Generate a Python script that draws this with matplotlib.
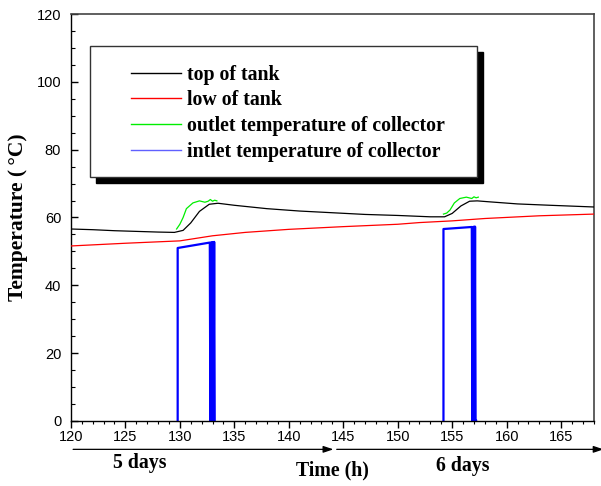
import matplotlib
matplotlib.use("Agg")
import matplotlib.pyplot as plt
from matplotlib.patches import Rectangle
from matplotlib.ticker import MultipleLocator

# ── Data ──────────────────────────────────────────────────────────────────
top_time = [120, 122, 124, 126, 128, 129.5, 130.3, 131.0, 131.8, 132.7, 133.5,
            135, 138, 141, 144, 147, 150, 153, 154.3, 155.0, 155.8, 156.6,
            157.3, 158.5, 161, 164, 168]
top_temp = [56.6, 56.4, 56.1, 55.9, 55.7, 55.6, 56.2, 58.4, 61.8, 63.9, 64.2,
            63.6, 62.6, 61.9, 61.4, 60.9, 60.6, 60.2, 60.2, 61.2, 63.4, 64.8,
            64.9, 64.6, 64.0, 63.6, 63.1]

low_time = [120, 125, 130, 133, 136, 140, 145, 150, 152, 155, 158, 163, 168]
low_temp = [51.6, 52.4, 53.1, 54.6, 55.6, 56.5, 57.3, 58.0, 58.5, 59.0, 59.7, 60.5, 61.0]

out1_time = [129.7, 130.0, 130.3, 130.6, 131.2, 131.8, 132.3, 132.6, 132.8, 133.0, 133.2, 133.4]
out1_temp = [56.6, 58.0, 60.0, 62.6, 64.3, 64.9, 64.5, 64.8, 65.3, 64.8, 65.1, 64.9]
out2_time = [154.2, 154.5, 154.8, 155.2, 155.7, 156.3, 156.8, 157.0, 157.2, 157.4]
out2_temp = [61.0, 61.3, 62.2, 64.3, 65.6, 66.0, 65.6, 66.1, 65.8, 66.0]

# collector inlet only reported while the pump runs (NaN = pump off)
in_time = [129.8, 129.8, 132.75, 132.8, 132.85, 132.9, 132.95, 133.0,
           133.05, 133.1, 133.15, 133.2, float("nan"),
           154.2, 154.2, 156.8, 156.85, 156.9, 156.95, 157.0, 157.05,
           157.1, 157.15, 157.2]
in_temp = [0, 51.0, 52.6, 0, 52.6, 0, 52.7, 0,
           52.7, 0, 52.8, 0, float("nan"),
           0, 56.6, 57.2, 0, 57.2, 0, 57.3, 0, 57.3, 0, 0]

series_labels = ["top of tank", "low of tank",
                 "outlet temperature of collector", "intlet temperature of collector"]

SERIF = ["Liberation Serif", "DejaVu Serif"]
SANS = ["Liberation Sans", "DejaVu Sans"]
BIG = 14.3

fig = plt.figure(figsize=(6.01, 4.86), dpi=100)
ax = fig.add_axes([0.118, 0.134, 0.870, 0.837])

ax.plot(in_time, in_temp, color="#0000ff", linewidth=1.6, zorder=2)
ax.plot(low_time, low_temp, color="#ff0000", linewidth=0.9, zorder=3)
ax.plot(top_time, top_temp, color="black", linewidth=0.9, zorder=4)
ax.plot(out1_time, out1_temp, color="#00ee00", linewidth=0.9, zorder=5)
ax.plot(out2_time, out2_temp, color="#00ee00", linewidth=0.9, zorder=5)

ax.set_xlim(120, 168)
ax.set_ylim(0, 120)
ax.xaxis.set_major_locator(MultipleLocator(5))
ax.xaxis.set_minor_locator(MultipleLocator(1))
ax.yaxis.set_major_locator(MultipleLocator(20))
ax.yaxis.set_minor_locator(MultipleLocator(5))
ax.tick_params(axis="x", which="major", direction="out", length=5, width=1, pad=1.5)
ax.tick_params(axis="x", which="minor", direction="out", length=2.5, width=0.8)
ax.tick_params(axis="y", which="major", direction="in", length=5, width=1, pad=7)
ax.tick_params(axis="y", which="minor", direction="in", length=3, width=0.8)
for lab in ax.get_xticklabels() + ax.get_yticklabels():
    lab.set_family(SANS)
    lab.set_fontsize(10.5)
for side in ("top", "right"):
    ax.spines[side].set_color("#444444")
    ax.spines[side].set_linewidth(1.2)
for side in ("left", "bottom"):
    ax.spines[side].set_linewidth(1.0)

ax.set_ylabel("Temperature (\u2009\u00b0C)", family=SERIF, fontweight="bold",
              fontsize=15.5, labelpad=6)

# ── Legend with hard black shadow ─────────────────────────────────────────
x0, x1, y0, y1 = 0.036, 0.776, 0.600, 0.921
ax.add_patch(Rectangle((x0 + 0.012, y0 - 0.015), x1 - x0, y1 - y0, transform=ax.transAxes,
                       facecolor="black", edgecolor="black", zorder=6))
ax.add_patch(Rectangle((x0, y0), x1 - x0, y1 - y0, transform=ax.transAxes,
                       facecolor="white", edgecolor="#333333", linewidth=1.0, zorder=7))
handles = [plt.Line2D([], [], color=c, linewidth=1.0)
           for c in ["black", "#ff0000", "#00ee00", "#6060ff"]]
leg = ax.legend(handles, series_labels, loc="upper left", bbox_to_anchor=(0.115, 0.876),
                frameon=False, borderpad=0, borderaxespad=0, handlelength=2.5,
                handletextpad=0.3, labelspacing=0.29,
                prop={"family": SERIF, "weight": "bold", "size": BIG})
leg.set_zorder(8)

# ── Day arrows and bottom labels ──────────────────────────────────────────
xt = ax.get_xaxis_transform()
arrow = dict(arrowstyle="-|>,head_length=0.6,head_width=0.2", color="black",
             linewidth=0.9, shrinkA=0, shrinkB=0)
ax.annotate("", xy=(144.1, -0.070), xytext=(120.2, -0.070), xycoords=xt, textcoords=xt,
            arrowprops=arrow, annotation_clip=False)
ax.annotate("", xy=(168.9, -0.070), xytext=(144.4, -0.070), xycoords=xt, textcoords=xt,
            arrowprops=arrow, annotation_clip=False)
ax.text(126.3, -0.103, "5 days", transform=xt, ha="center", va="center",
        family=SERIF, fontweight="bold", fontsize=BIG)
ax.text(156.0, -0.110, "6 days", transform=xt, ha="center", va="center",
        family=SERIF, fontweight="bold", fontsize=BIG)
ax.text(144.0, -0.123, "Time (h)", transform=xt, ha="center", va="center",
        family=SERIF, fontweight="bold", fontsize=BIG)

fig.savefig("out.png", dpi=100)
